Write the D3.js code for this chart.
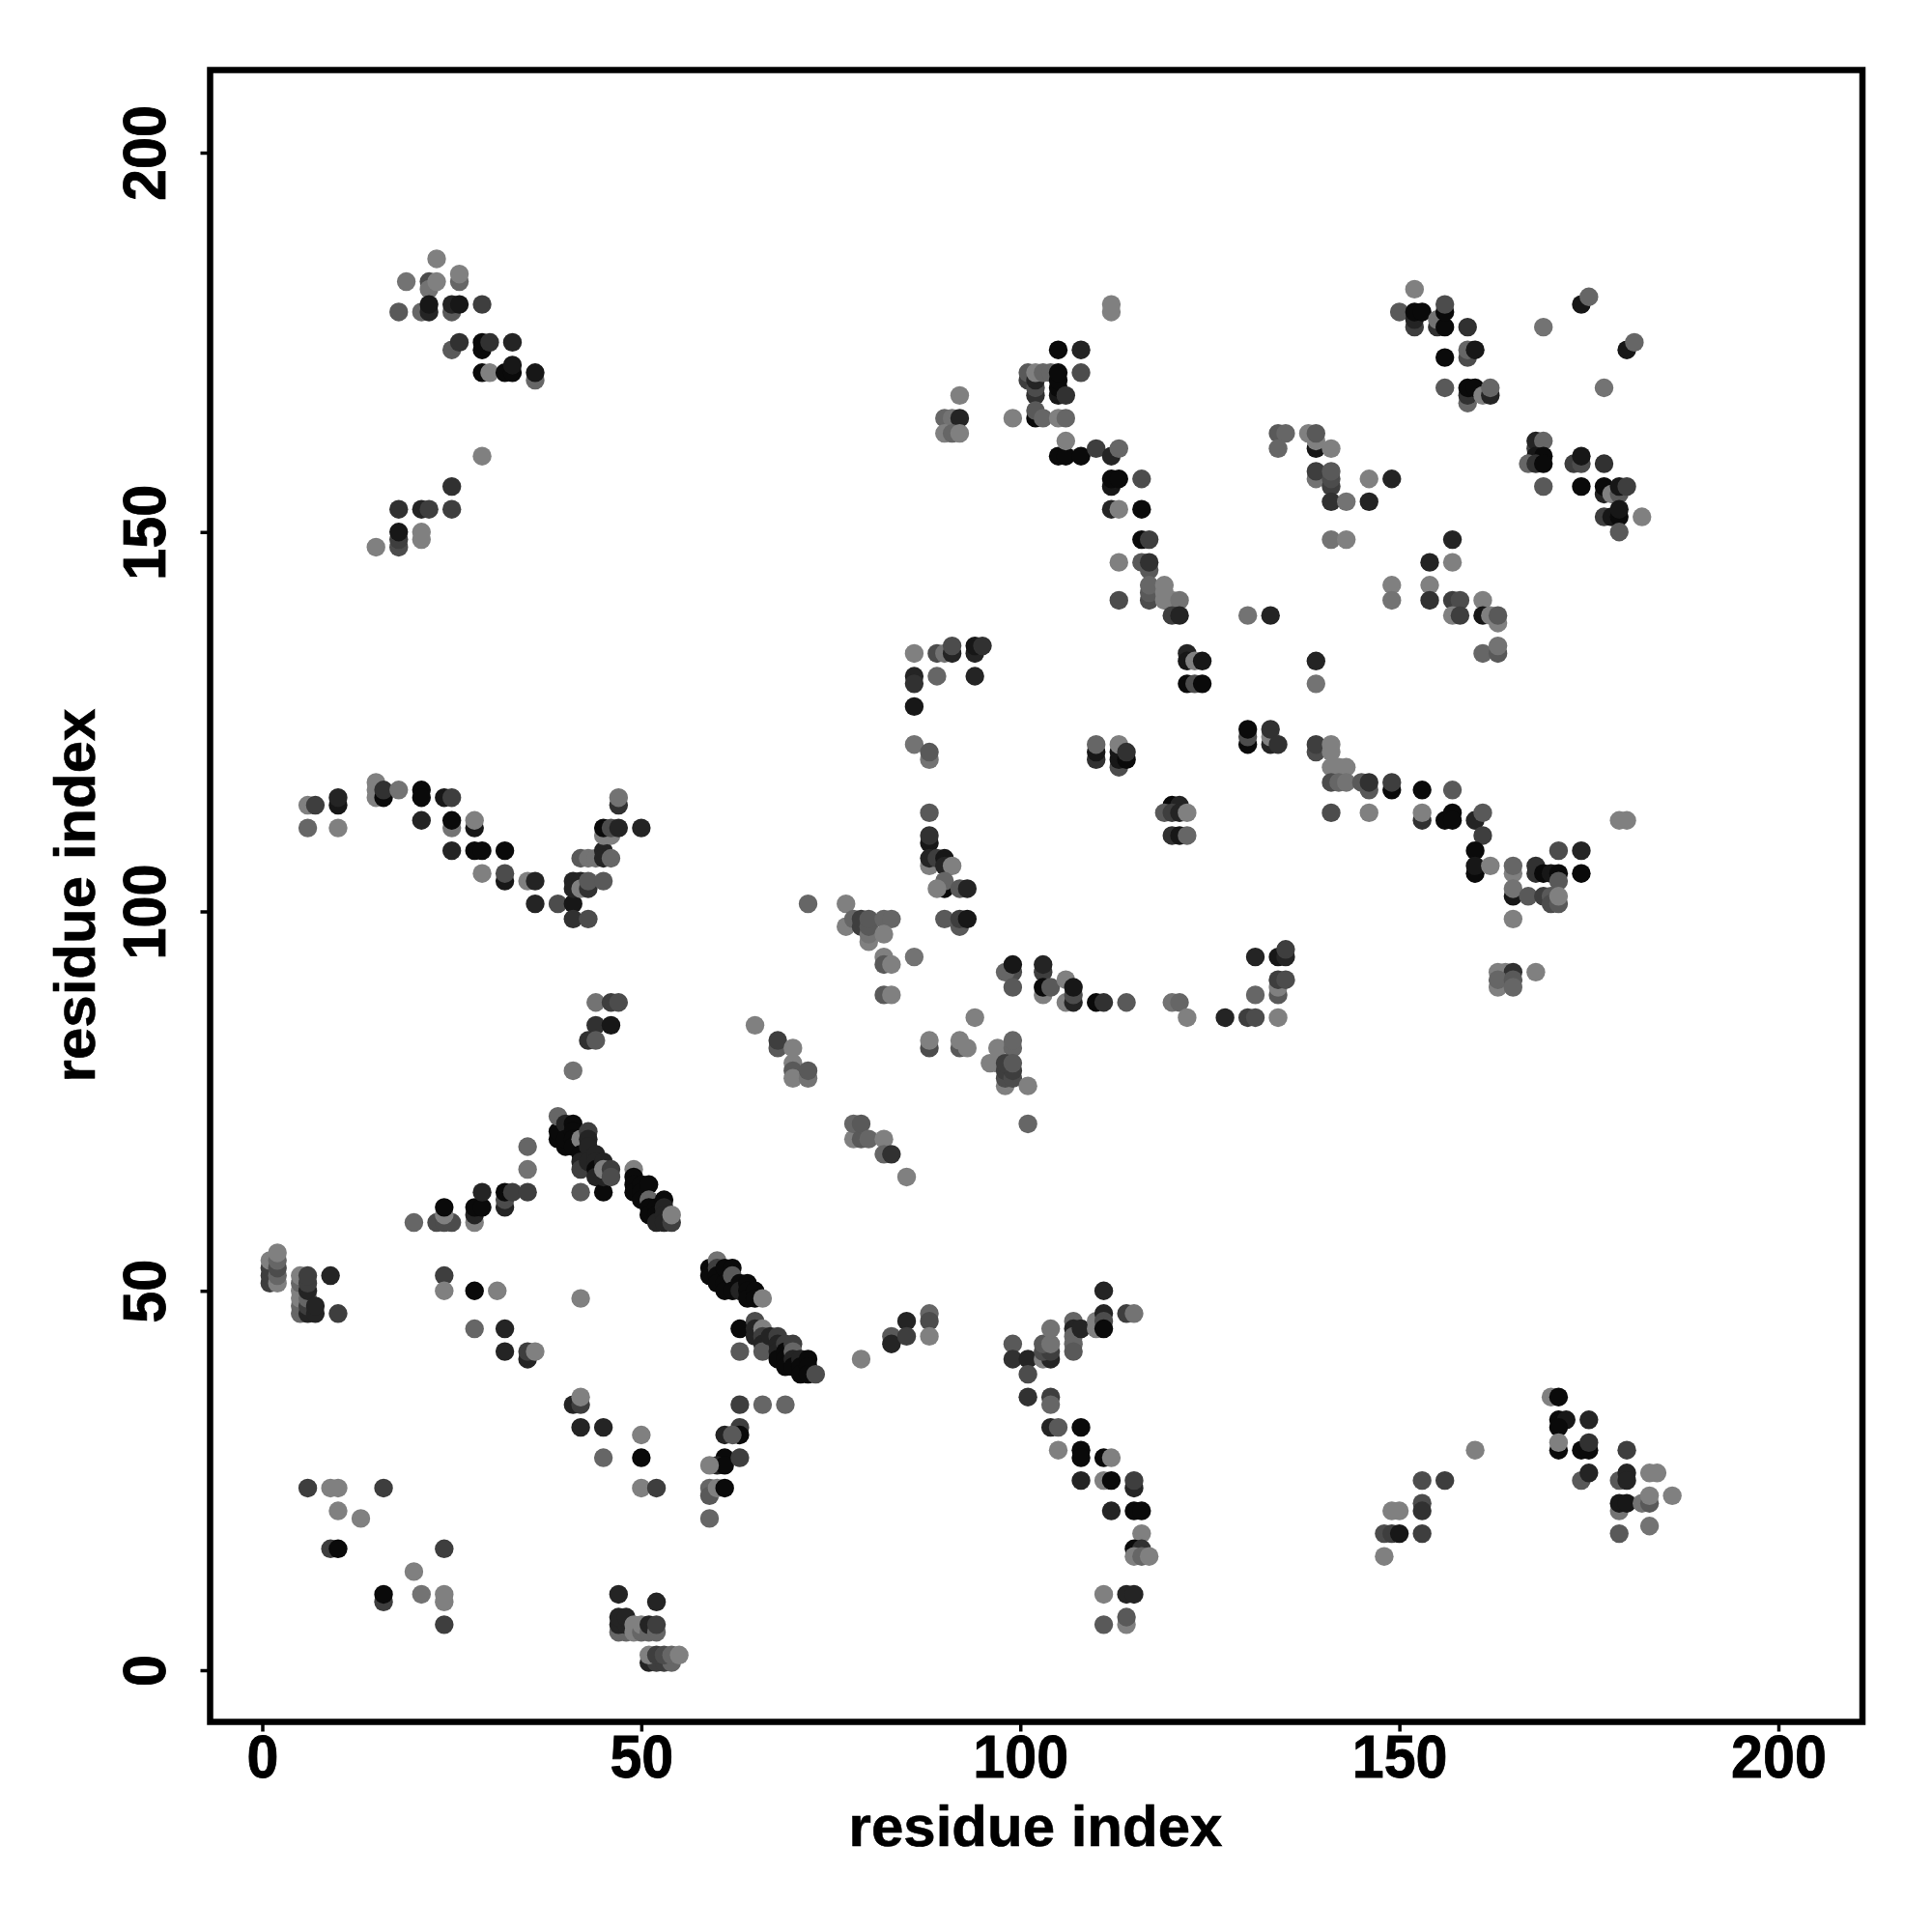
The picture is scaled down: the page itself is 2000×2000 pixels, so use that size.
<!DOCTYPE html>
<html><head><meta charset="utf-8">
<script src="https://cdn.jsdelivr.net/npm/d3@7"></script>
<style>html,body{margin:0;padding:0;background:#fff}</style></head>
<body><svg id="c" width="2000" height="2000"></svg>
<script>
// each contact: [residue i, residue j, score 0 (weak) .. 9 (strong)]
const tickValues=[0,50,100,150,200];
const axisTitle="residue index";
const lowerLeft=[[1,51,5],[1,52,5],[1,53,5],[1,54,0],[2,51,0],[2,52,2],[2,53,4],[2,54,2],[2,55,0],
[5,47,2],[5,48,2],[5,49,0],[5,50,0],[5,51,2],[5,52,0],[6,47,7],[6,48,5],[6,49,2],[6,50,7],[6,51,5],[6,52,5],[7,47,7],[7,48,7],[9,52,7],[10,47,5],
[24,52,5],[24,50,0],[28,50,9],[31,50,0],[42,49,0],[28,45,2],[32,45,7],[32,42,7],[35,41,7],[35,42,5],[36,42,0],
[41,35,7],[42,35,5],[42,36,0],[42,32,7],[45,32,7],[45,28,2],[50,31,0],[50,28,9],[50,24,0],[52,24,5],
[6,24,5],[9,24,0],[10,24,0],[16,24,5],[10,21,0],[13,20,0],[9,16,5],[10,16,9],[24,16,5],[20,13,0],[16,9,5],[16,10,9],[21,10,1],[24,9,0],[24,10,0],[24,6,5]];
const bottomBlock=[[47,10,7],[52,9,7],[47,5,2],[48,5,2],[47,6,7],[48,6,7],[47,7,7],[48,7,7],[49,5,0],[49,6,0],[50,5,2],[50,6,0],[51,5,2],[51,6,7],[52,5,2],[52,6,5],
[51,1,7],[52,1,5],[53,1,5],[54,1,2],[51,2,0],[52,2,5],[53,2,4],[54,2,2],[55,2,0]];
const arc=[[20,59,2],[23,59,4],[24,59,4],[25,59,4],[24,60,0],[24,61,9],[28,59,0],[28,60,7],[28,61,9],[29,61,9],[29,63,7],[32,61,7],[32,62,4],[32,63,9],[33,63,5],[35,63,5],[35,66,1],[35,69,2]];
const diagonalA=[[39,70,9],[39,71,9],[39,73,2],[40,72,7],[40,69,9],[40,70,9],[41,72,9],[41,71,9],[41,70,9],[41,69,9],[42,70,0],[42,68,9],[42,67,7],[42,66,5],[42,63,3],[43,71,5],[43,70,7],[43,69,7],[43,67,7],[44,68,7],[44,67,7],[44,66,9],[44,65,7],[45,67,7],[45,63,9],[45,65,7],[45,66,0],[46,66,5],[46,65,4],
[49,66,0],[49,65,9],[49,64,9],[49,63,9],[50,64,9],[50,63,9],[50,62,9],[51,64,9],[51,62,2],[51,61,9],[51,60,9],[52,61,9],[52,60,9],[52,59,7],[53,62,9],[53,61,7],[53,60,7],[53,59,7],[54,59,5],[54,60,0]];
const diagonalB=[[59,53,9],[59,52,9],[60,54,1],[60,53,5],[60,52,9],[60,51,9],[61,53,9],[61,51,9],[61,50,9],[62,53,9],[62,52,3],[62,50,9],[63,51,9],[63,50,7],[64,51,9],[64,50,9],[64,49,9],[65,50,9],[65,49,9],[66,49,0]];
const diagonalC=[[63,45,9],[65,46,4],[65,45,7],[65,44,7],[66,45,0],[66,44,5],[63,42,3],[66,43,7],[66,42,3],[67,44,7],[68,44,5],[68,43,7],[68,42,7],[68,41,9],[69,43,5],[69,42,9],[69,41,9],[69,40,9],[70,43,5],[70,42,2],[70,41,7],[70,40,9],[71,41,7],[71,40,9],[71,39,9],[72,41,9],[72,40,9],[72,39,9],[73,39,4],
[63,35,5],[66,35,2],[69,35,2],[63,32,5],[63,31,9],[61,31,7],[62,31,3],[61,28,9],[60,27,7],[61,27,9],[63,28,5],[59,27,0],[59,24,2],[59,23,3],[60,24,0],[61,24,9],[59,20,2]];
const middleRight=[[79,41,0],[83,44,3],[83,43,7],[85,46,7],[85,44,5],[88,47,2],[88,46,4],[88,44,0],
[99,43,3],[99,41,6],[101,41,7],[101,39,4],[101,36,6],[104,36,5],[104,35,2],[103,41,0],[104,41,7],[103,42,4],[104,42,5],[103,43,3],[104,43,1],[104,45,1],
[107,46,2],[107,45,7],[107,44,2],[107,43,2],[107,42,3],[108,45,7],[110,45,0],[110,46,0],[111,50,7],[111,47,7],[111,46,4],[111,45,9],[114,47,5],[115,47,1],
[104,32,7],[105,32,3],[108,32,9],[105,29,0],[108,29,9],[108,28,9],[111,28,9],[112,28,0],[108,25,7],[111,25,0],[112,25,9],[115,24,7],[115,25,5],[112,21,7],[115,21,9],[116,21,9],[116,18,0],[115,16,9],[116,16,6],[115,15,0],[116,15,2],[117,15,0],[111,10,0],[114,10,7],[115,10,7],[111,6,3],[114,6,0],[114,7,3]];
const lowerRight=[[148,18,4],[149,18,5],[150,18,8],[149,21,0],[150,21,0],[148,15,0],[153,25,4],[153,22,4],[153,21,6],[153,18,5],[156,25,5],[160,29,0],
[170,36,0],[171,36,9],[171,33,9],[172,33,8],[171,32,9],[171,29,9],[171,30,0],[175,33,7],[174,29,9],[175,29,9],[175,30,6],[174,25,3],[175,26,7],[179,25,3],[180,29,5],[180,26,7],[180,25,7],[179,21,1],[179,22,8],[180,22,8],[179,18,3],[182,22,1],[183,22,3],[183,23,0],[183,26,0],[184,26,0],[186,23,0],[183,19,1]];
const leftLoop=[[6,114,0],[7,114,5],[10,114,8],[10,115,7],[6,111,2],[10,111,0],[15,115,0],[15,116,0],[15,117,0],[16,115,9],[16,116,6],[18,116,1],[21,116,9],[21,115,9],[24,115,8],[25,115,5],[21,112,7],[25,111,1],[25,112,9],[28,111,8],[28,112,0],
[25,108,7],[28,108,9],[29,108,9],[32,108,9],[29,105,0],[32,104,8],[32,105,4],[35,104,0],[36,104,7],[36,101,7],[39,101,4],[41,101,8],[41,99,6],[43,99,4],
[41,104,7],[41,103,7],[42,104,7],[42,103,0],[43,103,6],[43,104,3],[45,104,3],[42,107,3],[43,107,1],[44,107,1],[45,108,7],[45,107,7],[46,107,2],[45,110,0],[46,110,0],[45,111,9],[46,111,4],[47,111,7],[50,111,7],[47,114,6],[47,115,1],
[44,88,1],[46,88,5],[47,88,4],[44,85,6],[46,85,8],[43,83,6],[44,83,3],[41,79,1],[65,85,0],[68,82,3],[68,83,5],[70,82,0],[70,80,0],[70,79,3],[70,78,0],[72,78,1],[72,79,3]];
const rightUpperBand=[[86,122,1],[88,120,1],[88,121,3],[88,113,3],[88,109,8],[88,110,6],[88,106,0],[88,107,7],[89,107,5],[90,107,8],[90,106,7],[91,106,0],[90,103,9],[90,104,2],[89,103,0],[92,103,3],[93,103,7],[90,99,3],[92,98,3],[92,99,5],[93,99,8],
[72,101,2],[77,101,0],[77,98,0],[78,99,2],[79,98,5],[79,99,5],[80,96,0],[80,97,1],[80,98,3],[80,99,3],[82,99,2],[83,99,2],[82,97,0],[82,94,0],[82,93,3],[83,93,0],[86,94,1],[82,89,3],[83,89,0],
[99,92,4],[98,92,2],[99,93,8],[99,90,3],[103,92,5],[103,93,7],[103,89,0],[103,90,9],[104,90,3],[106,91,0],[106,88,0],[107,88,7],[107,89,4],[107,90,8],[110,88,9],[111,88,6],[114,88,3],[120,88,1],[121,88,2],[122,86,0],
[127,86,7],[130,86,5],[131,86,4],[134,86,0],[131,89,2],[131,94,7],[134,94,8],[135,94,7],[135,95,5],[134,89,3],[134,90,0],[134,91,5],[135,91,4],[94,86,0],
[88,82,4],[88,83,0],[92,82,3],[92,83,0],[93,82,0],[97,82,0],[99,82,2],[99,83,2],[96,80,0],[97,80,0],[98,77,0],[98,78,4],[98,79,5],[99,78,4],[99,79,5],[98,80,5],[99,80,3],[101,77,0],[101,72,2],
[78,70,0],[78,72,2],[79,70,3],[79,72,3],[80,70,2],[82,70,0],[82,68,2],[83,68,6],[85,65,0]];
const centerRight=[[110,120,6],[110,121,8],[110,122,2],[113,119,4],[113,120,8],[113,121,8],[113,122,0],[114,120,9],[114,121,6],
[130,122,9],[130,123,4],[130,124,9],[133,122,7],[133,123,0],[133,124,6],[134,122,6],
[120,114,9],[121,114,7],[119,113,3],[120,113,5],[121,113,7],[122,113,0],[120,110,6],[121,110,8],[122,110,2],[141,113,4],
[130,139,1],[133,139,7],[139,133,7],[139,130,1],[149,143,0],[149,141,1],[154,143,0],[154,141,6],[157,141,5],[158,141,4],[157,139,0],[158,139,5],[161,141,0],[161,139,8],[163,138,0],[162,139,0],[163,139,3],[161,134,2],[163,134,3],[163,135,1],
[139,121,4],[139,122,5],[141,122,0],[141,121,0],[141,119,0],[142,119,0],[143,119,0],[141,117,4],[142,117,2],[143,117,1],[145,117,3],[146,116,3],[146,117,6],[149,116,9],[149,117,5],[153,116,9],[157,116,3],
[146,113,0],[153,112,6],[153,113,0],[156,112,9],[157,113,9],[157,112,9],[160,112,7],[161,113,3],[161,110,5],[160,108,9],[160,105,9],[160,106,8],[162,106,0],[165,105,0],[165,106,2],[165,102,8],[165,103,1],[167,102,3],[168,105,6],[168,106,6],[169,105,9],[170,105,8],[171,105,9],[171,108,4],[174,108,7],[174,105,9],[171,104,3],[169,102,5],[170,102,3],[170,101,4],[171,101,3],[171,102,0],[165,99,0],[179,112,0],[180,112,0],
[163,92,0],[164,92,0],[165,92,6],[168,92,0],[163,90,0],[163,91,2],[165,91,3],[165,90,2]];
const topLeft=[[23,186,0],[19,183,1],[22,183,4],[22,182,1],[23,183,0],[26,183,2],[26,184,0],[18,179,3],[21,179,2],[22,179,7],[22,180,8],[25,179,3],[25,180,7],[26,180,8],[29,180,5],[25,174,3],[26,175,6],
[29,174,9],[29,175,9],[30,175,6],[33,175,7],[29,171,9],[30,171,0],[32,171,9],[33,171,9],[33,172,8],[36,170,2],[36,171,8],[29,160,0],[25,156,6],[18,153,6],[21,153,7],[22,153,5],[25,153,5],[18,148,4],[18,149,5],[18,150,8],[21,149,0],[21,150,0],[15,148,0]];
const topCenter=[[112,179,0],[112,180,0],[105,174,9],[108,174,7],[108,171,4],[101,170,5],[101,171,3],[102,168,6],[102,169,4],[102,170,7],[102,171,0],[103,171,2],[104,171,2],[105,168,8],[105,169,9],[105,170,9],[105,171,9],[106,168,6],
[102,165,9],[102,166,3],[103,165,2],[105,165,0],[106,165,2],[99,165,0],[90,165,2],[91,165,1],[92,165,7],[92,168,0],[90,163,0],[91,163,2],[92,163,0],
[105,160,9],[106,160,9],[108,160,9],[106,162,0],[110,161,5],[112,160,7],[113,161,2],[112,156,8],[112,157,9],[113,157,9],[116,157,4],[112,153,7],[113,153,0],[116,153,9],[116,149,9],[117,149,5],
[113,146,0],[116,146,3],[117,145,3],[117,146,6],[117,141,4],[117,142,3],[117,143,2],[119,141,0],[119,142,0],[119,143,0],[113,141,4],[120,141,0],[121,141,1],[120,139,5],[121,139,7],
[86,134,0],[89,134,4],[90,134,1],[91,134,7],[91,135,4],[94,134,7],[94,135,8],[95,135,6],[86,131,7],[86,130,6],[89,131,2],[94,131,7],[86,127,8],
[122,134,7],[122,133,8],[123,133,0],[124,133,8],[122,130,9],[123,130,4],[124,130,9]];
const topRight=[[152,182,0],[150,179,3],[152,177,5],[152,178,7],[152,179,9],[153,179,9],[155,177,6],[155,178,1],[156,177,9],[156,179,9],[156,180,4],[159,177,6],[156,173,9],[159,173,4],[159,174,2],[160,174,8],[156,169,3],[159,167,2],[159,168,6],[159,169,9],[160,169,9],[161,168,0],[162,168,7],[162,169,2],
[174,180,8],[175,181,2],[169,177,1],[180,174,8],[181,175,2],[177,169,1],[168,161,5],[168,162,7],[169,162,2],[168,160,8],[169,160,9],[167,159,2],[168,159,6],[169,159,9],[169,156,3],
[173,159,5],[174,159,4],[174,160,8],[177,159,6],[174,156,9],[177,155,7],[177,156,9],[178,155,0],[179,155,3],[179,156,8],[180,156,5],[177,152,5],[178,152,8],[179,152,9],[179,153,8],[182,152,0],[179,150,3],
[134,163,3],[135,163,2],[134,161,2],[138,163,0],[139,161,8],[139,162,0],[139,163,3],[141,161,0],[139,157,1],[139,158,5],[141,156,5],[141,157,4],[141,158,3],[146,157,0],[149,157,7],[141,154,6],[143,154,1],[146,154,7],[141,149,1],[143,149,0],[157,149,7],[154,146,7],[157,146,0]];

const clusters=[lowerLeft,bottomBlock,arc,diagonalA,diagonalB,diagonalC,middleRight,lowerRight,leftLoop,rightUpperBand,centerRight,topLeft,topCenter,topRight];

const x=d3.scaleLinear().domain([0,200]).range([271.5,1841]);
const y=d3.scaleLinear().domain([0,200]).range([1729,158]);
const shade=d3.scaleLinear().domain([0,9]).range([128,10]);
const font='"Liberation Sans",Arial,sans-serif';
const svg=d3.select('#c');
const left=217.5,right=1928,top_=72.5,bottom=1782.5;

svg.append('g').selectAll('g').data(clusters).join('g')
  .selectAll('circle').data(d=>d).join('circle')
  .attr('cx',d=>x(d[0])).attr('cy',d=>y(d[1])).attr('r',9.7)
  .attr('fill',d=>{const g=Math.round(shade(d[2]));return `rgb(${g},${g},${g})`;});

svg.append('rect').attr('x',left).attr('y',top_).attr('width',right-left).attr('height',bottom-top_)
  .attr('fill','none').attr('stroke','#000').attr('stroke-width',6.5);

const gx=svg.append('g').attr('transform',`translate(0,${bottom})`)
  .call(d3.axisBottom(x).tickValues(tickValues).tickSize(10).tickFormat(d3.format('d')));
const gy=svg.append('g').attr('transform',`translate(${left},0)`)
  .call(d3.axisLeft(y).tickValues(tickValues).tickSize(10).tickFormat(d3.format('d')));
[gx,gy].forEach(g=>{g.select('.domain').remove();
  g.selectAll('line').attr('stroke','#000').attr('stroke-width',3.5);
  g.selectAll('text').attr('font-family',font).attr('font-weight','bold').attr('font-size',63)
    .attr('fill','#000').attr('stroke','#000').attr('stroke-width',0.8);});
gx.selectAll('text').attr('dy',null).attr('y',58).attr('transform','scale(0.94,1)');
gy.selectAll('text').attr('dy',null).attr('x',null).attr('text-anchor','middle')
  .attr('transform','translate(-47,0) rotate(-90) scale(0.94,1)');
svg.append('text').text(axisTitle).attr('x',1072).attr('y',1911).attr('text-anchor','middle')
  .attr('font-family',font).attr('font-weight','bold').attr('font-size',60).attr('stroke','#000').attr('stroke-width',0.6);
svg.append('text').text(axisTitle).attr('transform','translate(98,927) rotate(-90)').attr('text-anchor','middle')
  .attr('font-family',font).attr('font-weight','bold').attr('font-size',60).attr('stroke','#000').attr('stroke-width',0.6);
</script></body></html>
